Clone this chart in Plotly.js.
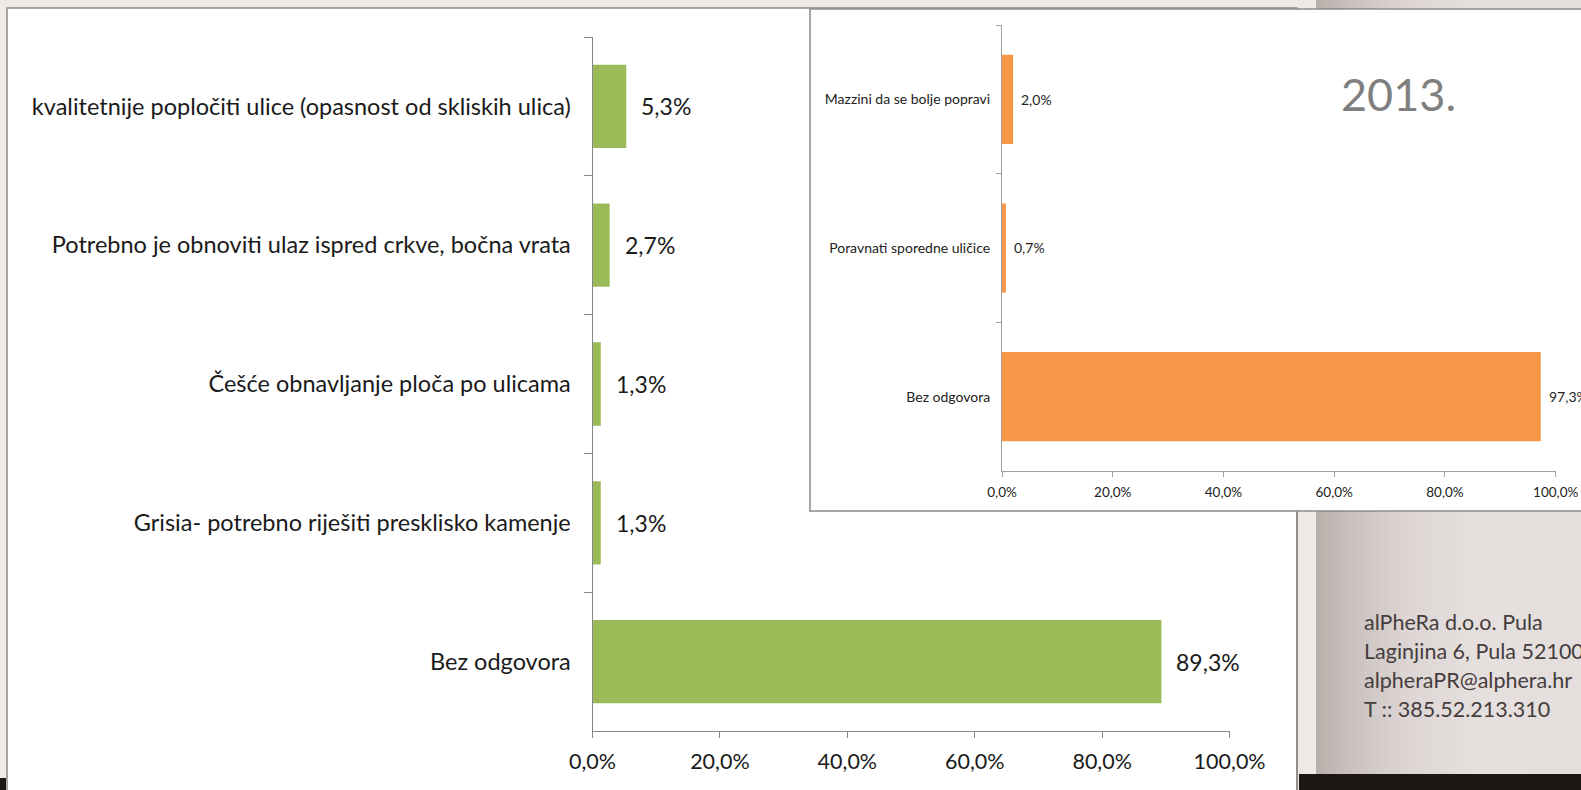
<!DOCTYPE html>
<html>
<head>
<meta charset="utf-8">
<script src="https://cdn.plot.ly/plotly-3.0.1.min.js"></script>
<style>
  html, body { margin: 0; padding: 0; background: #eeeae7; }
  #chart { width: 1581px; height: 790px; }
</style>
</head>
<body>
<div id="chart"></div>
<script>
// ---- Data ----
const mainCategories = [
  'kvalitetnije popločiti ulice (opasnost od skliskih ulica)',
  'Potrebno je obnoviti ulaz ispred crkve, bočna vrata',
  'Češće obnavljanje ploča po ulicama',
  'Grisia- potrebno riješiti presklisko kamenje',
  'Bez odgovora'
];
const mainValues = [0.053, 0.027, 0.013, 0.013, 0.893];

const insetCategories = [
  'Mazzini da se bolje popravi',
  'Poravnati sporedne uličice',
  'Bez odgovora'
];
const insetValues = [0.020, 0.007, 0.973];

const xTickVals = [0, 0.2, 0.4, 0.6, 0.8, 1.0];
const insetTitle = '2013.';
const footerLines = [
  'alPheRa d.o.o. Pula',
  'Laginjina 6, Pula 52100',
  'alpheraPR@alphera.hr',
  'T :: 385.52.213.310'
];

// ---- Layout helpers ----
const W = 1581, H = 790;
const px = v => v / W;
const py = v => 1 - v / H;
const FONT = 'Lato, "Open Sans", sans-serif';
const GREEN = '#9bbb59';
const ORANGE = '#f79646';
const AXIS = '#868686';

function fmtPct(v) {
  return (v * 100).toFixed(1).replace('.', ',') + '%';
}

// Background decoration shapes
const shapes = [];
// slide frame (main chart, white)
shapes.push({type: 'rect', xref: 'paper', yref: 'paper', layer: 'below',
  x0: px(7), x1: px(1297), y0: py(800), y1: py(8),
  fillcolor: '#ffffff', line: {color: '#8a8a8a', width: 1.5}});
// strip right of main frame
shapes.push({type: 'rect', xref: 'paper', yref: 'paper', layer: 'below',
  x0: px(1298), x1: px(1581), y0: py(790), y1: py(0),
  fillcolor: '#ede9e6', line: {width: 0}});
// gradient panel (approximated by thin rects)
const gradStops = [
  [1316, [184, 174, 170]],
  [1345, [200, 191, 188]],
  [1405, [220, 213, 211]],
  [1475, [229, 223, 221]],
  [1581, [228, 223, 221]]
];
function gradColor(x) {
  for (let i = 0; i < gradStops.length - 1; i++) {
    const [xa, ca] = gradStops[i], [xb, cb] = gradStops[i + 1];
    if (x >= xa && x <= xb) {
      const t = (x - xa) / (xb - xa);
      const c = ca.map((v, k) => Math.round(v + (cb[k] - v) * t));
      return `rgb(${c[0]},${c[1]},${c[2]})`;
    }
  }
  return 'rgb(228,223,221)';
}
for (let x = 1316; x < 1581; x += 4) {
  const col = gradColor(x + 2);
  shapes.push({type: 'rect', xref: 'paper', yref: 'paper', layer: 'below',
    x0: px(x), x1: px(Math.min(x + 4.5, 1581)), y0: py(774), y1: py(0),
    fillcolor: col, line: {width: 0}});
}
// dark bottom bar
shapes.push({type: 'rect', xref: 'paper', yref: 'paper', layer: 'below',
  x0: px(1299), x1: px(1581), y0: py(790), y1: py(774),
  fillcolor: '#1c1715', line: {width: 0}});
shapes.push({type: 'rect', xref: 'paper', yref: 'paper', layer: 'below',
  x0: px(0), x1: px(6), y0: py(790), y1: py(778),
  fillcolor: '#1c1715', line: {width: 0}});
// inset frame (white)
shapes.push({type: 'rect', xref: 'paper', yref: 'paper', layer: 'below',
  x0: px(810), x1: px(1600), y0: py(511), y1: py(9),
  fillcolor: '#ffffff', line: {color: '#8a8a8a', width: 1.5}});
// re-draw main frame right border below inset
shapes.push({type: 'line', xref: 'paper', yref: 'paper', layer: 'below',
  x0: px(1297), x1: px(1297), y0: py(511), y1: py(800),
  line: {color: '#8a8a8a', width: 1.5}});

// annotations: value labels + texts
const annotations = [];
mainCategories.forEach((c, i) => {
  annotations.push({xref: 'x', yref: 'y', x: mainValues[i], y: c,
    text: fmtPct(mainValues[i]), showarrow: false, xanchor: 'left',
    xshift: 13, font: {family: FONT, size: 23, color: '#1a1a1a'}});
});
insetCategories.forEach((c, i) => {
  annotations.push({xref: 'x2', yref: 'y2', x: insetValues[i], y: c,
    text: fmtPct(insetValues[i]), showarrow: false, xanchor: 'left',
    xshift: 6, font: {family: FONT, size: 14, color: '#222'}});
});
annotations.push({xref: 'paper', yref: 'paper', x: px(1398), y: py(94),
  text: insetTitle, showarrow: false, xanchor: 'center', yanchor: 'middle',
  font: {family: FONT, size: 45, color: '#7f7f7f'}});
footerLines.forEach((t, i) => {
  annotations.push({xref: 'paper', yref: 'paper', x: px(1362), y: py(622 + i * 29),
    text: t, showarrow: false, xanchor: 'left', yanchor: 'middle',
    font: {family: FONT, size: 21.5, color: '#453d3d'}});
});

const traces = [
  {type: 'bar', orientation: 'h', x: mainValues, y: mainCategories,
   marker: {color: GREEN}, xaxis: 'x', yaxis: 'y', hoverinfo: 'x+y'},
  {type: 'bar', orientation: 'h', x: insetValues, y: insetCategories,
   marker: {color: ORANGE}, xaxis: 'x2', yaxis: 'y2', hoverinfo: 'x+y'}
];

const layout = {
  width: W, height: H,
  margin: {l: 0, r: 0, t: 0, b: 0},
  paper_bgcolor: '#eeeae7',
  plot_bgcolor: 'rgba(0,0,0,0)',
  separators: ',.',
  showlegend: false,
  bargap: 0.4,
  font: {family: FONT, color: '#1a1a1a'},
  xaxis: {domain: [px(592.5), px(1229.6)], range: [0, 1], anchor: 'y',
    tickvals: xTickVals, tickformat: '.1%', showgrid: false, zeroline: false,
    showline: true, linecolor: AXIS, linewidth: 1, ticks: 'outside', ticklen: 6,
    tickcolor: AXIS, ticklabelstandoff: 5, tickfont: {family: FONT, size: 21.5, color: '#1a1a1a'},
    fixedrange: true},
  yaxis: {domain: [py(731), py(37)], anchor: 'x', type: 'category',
    range: [4.5, -0.5], tickson: 'boundaries', ticks: 'outside', ticklen: 8,
    tickcolor: AXIS, showline: true, linecolor: AXIS, linewidth: 1, showgrid: false,
    zeroline: false, ticklabelstandoff: 16,
    tickfont: {family: FONT, size: 23.5, color: '#1a1a1a'}, fixedrange: true},
  xaxis2: {domain: [px(1002), px(1555.7)], range: [0, 1], anchor: 'y2',
    tickvals: xTickVals, tickformat: '.1%', showgrid: false, zeroline: false,
    showline: true, linecolor: '#a0a0a0', linewidth: 1, ticks: 'outside', ticklen: 5,
    tickcolor: '#a0a0a0', ticklabelstandoff: 4, tickfont: {family: FONT, size: 13.5, color: '#222'},
    fixedrange: true},
  yaxis2: {domain: [py(471), py(25)], anchor: 'x2', type: 'category',
    range: [2.5, -0.5], tickson: 'boundaries', ticks: 'outside', ticklen: 5,
    tickcolor: '#a0a0a0', showline: true, linecolor: '#a0a0a0', linewidth: 1, showgrid: false,
    zeroline: false, ticklabelstandoff: 8,
    tickfont: {family: FONT, size: 14, color: '#222'}, fixedrange: true},
  shapes: shapes,
  annotations: annotations
};

Plotly.newPlot('chart', traces, layout, {displayModeBar: false, responsive: false});
</script>
</body>
</html>
